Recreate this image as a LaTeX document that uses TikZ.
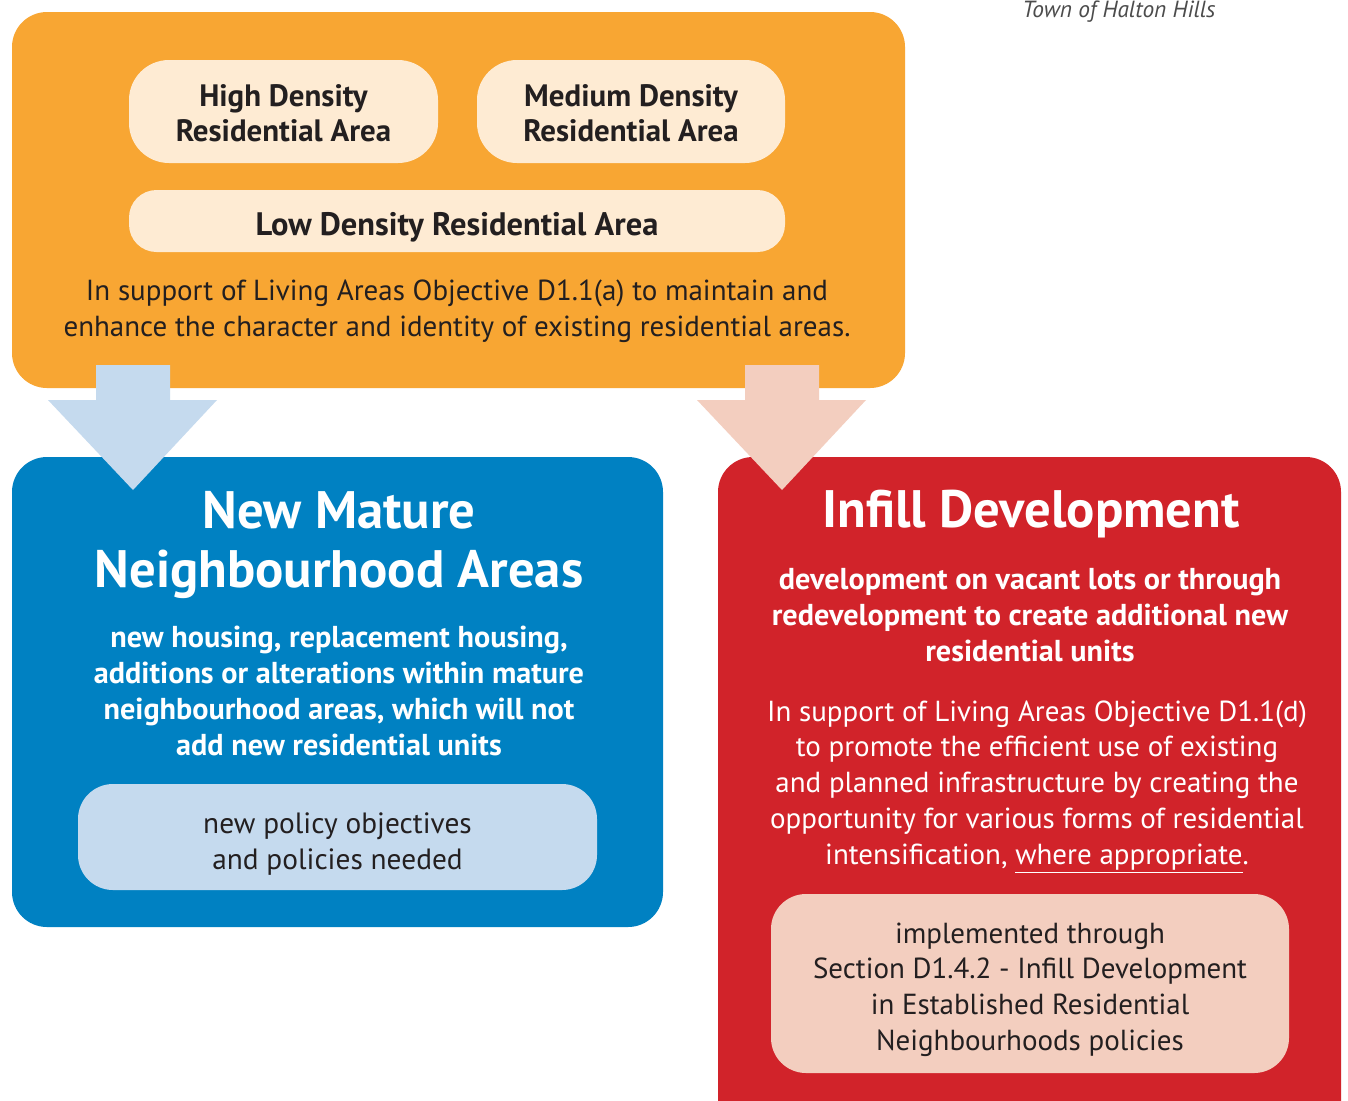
\documentclass[tikz,border=0pt]{standalone}
\usepackage{fontspec}
\setmainfont{PT Sans}
\usetikzlibrary{positioning,fit}
\definecolor{livorange}{HTML}{F8A633}
\definecolor{livcream}{HTML}{FEEBD3}
\definecolor{maturblue}{HTML}{0081C2}
\definecolor{maturpale}{HTML}{C5DAEE}
\definecolor{infillred}{HTML}{D1232A}
\definecolor{infillpale}{HTML}{F3CEBF}
\definecolor{inkdark}{HTML}{231F20}
\newcommand\bodysize{\fontsize{16.5}{20.4}\selectfont}
\newcommand\boldsize{\fontsize{17.2}{20.4}\selectfont\bfseries}
\newcommand\titlesize{\fontsize{30}{34}\selectfont\bfseries}
\tikzstyle{panel}=[rounded corners=0.7cm,inner sep=0pt,draw=none]
\tikzstyle{pill}=[rounded corners=0.8cm,inner sep=0pt,draw=none]
\tikzstyle{words}=[align=center,inner sep=0pt,font=\bodysize]
\begin{document}
\begin{tikzpicture}[x=0.02cm,y=-0.02cm]
\clip (0,0) rectangle (1348,1100);
\fill[white] (0,0) rectangle (1348,1100);
\node[inner sep=0pt,text=black!70,font=\fontsize{13.3}{15}\selectfont\itshape] (town) at (1119,12) {Town of Halton Hills};
\node[panel,fill=livorange,fit={(12,12) (905,388)}] (living) {};
\node[panel,fill=maturblue,fit={(12,457) (663,927)}] (mature) {};
\node[panel,fill=infillred,fit={(718,457) (1341,1140)}] (infill) {};
\fill[maturpale] (96,365) -- (170,365) -- (170,400) -- (217,400) -- (133,490) -- (48,400) -- (96,400) -- cycle;
\fill[infillpale] (745,365) -- (819,365) -- (819,400) -- (866,400) -- (782,490) -- (697,400) -- (745,400) -- cycle;
\node[pill,fill=livcream,fit={(129,60) (438,163)}] (high) {};
\node[pill,fill=livcream,fit={(477,60) (785,163)}] (medium) {};
\node[pill,rounded corners=0.55cm,fill=livcream,fit={(129,190) (785,252)}] (low) {};
\node[pill,rounded corners=0.7cm,fill=maturpale,fit={(78,784) (597,890)}] (needed) {};
\node[pill,rounded corners=0.7cm,fill=infillpale,fit={(771,894) (1289,1073)}] (section) {};
\node[words,text=inkdark,font=\fontsize{17.6}{20.4}\selectfont\bfseries,yshift=-1] (highText) at (high.center) {High Density\\Residential Area};
\node[words,text=inkdark,font=\fontsize{17.6}{20.4}\selectfont\bfseries,yshift=-1] (mediumText) at (medium.center) {Medium Density\\Residential Area};
\node[words,text=inkdark,font=\fontsize{18.5}{20.4}\selectfont\bfseries,yshift=-3.5] (lowText) at (low.center) {Low Density Residential Area};
\node[words,text=inkdark] (objA) at (457,311) {In support of Living Areas Objective D1.1(a) to maintain and\\enhance the character and identity of existing residential areas.};
\node[words,text=white,font=\titlesize] (matTitle) at (339,545) {New Mature\\Neighbourhood Areas};
\node[words,text=white,font=\boldsize] (matText) at (339,691) {new housing, replacement housing,\\additions or alterations within mature\\neighbourhood areas, which will not\\add new residential units};
\node[words,text=inkdark,font=\fontsize{16.7}{20.4}\selectfont,yshift=-4] (neededText) at (needed.center) {new policy objectives\\and policies needed};
\node[words,text=white,font=\titlesize] (infTitle) at (1031,514) {Infill Development};
\node[words,text=white,font=\boldsize] (infText) at (1030,615) {development on vacant lots or through\\redevelopment to create additional new\\residential units};
\node[words,text=white] (objD) at (1037,787) {In support of Living Areas Objective D1.1(d)\\to promote the efficient use of existing\\and planned infrastructure by creating the\\opportunity for various forms of residential\\intensification, \underline{where appropriate}.};
\node[words,text=inkdark,yshift=-3.5] (sectionText) at (section.center) {implemented through\\Section D1.4.2 - Infill Development\\in Established Residential\\Neighbourhoods policies};
\end{tikzpicture}
\end{document}
